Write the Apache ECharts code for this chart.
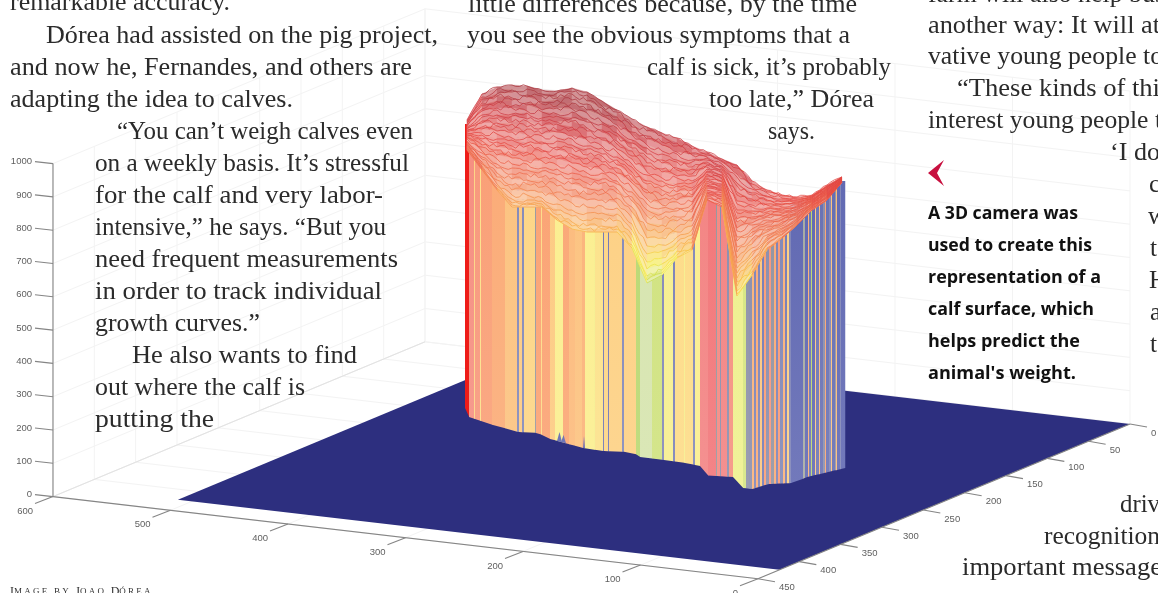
<!DOCTYPE html>
<html><head><meta charset="utf-8">
<style>html,body{margin:0;padding:0;background:#fff;overflow:hidden}#c{width:1158px;height:593px;filter:blur(0.35px)}</style>
<script src="https://cdn.jsdelivr.net/npm/echarts@6/dist/echarts.min.js"></script>
</head><body><div id="c"></div>
<script>
// ---- axis ticks
const xTicks=[0,100,200,300,400,500,600];
const yTicks=[0,50,100,150,200,250,300,350,400,450];
const zTicks=[0,100,200,300,400,500,600,700,800,900,1000];
const sensorX=512, sensorY=424;
// ---- surface columns and contour rows
const meshCols=[467,482,497,512,527,542,557,572,587,602,617,632,647,662,677,692,707,722,737,752,767,782,797,812,827,842];
const meshRows=[
[120,94,87,85,86,90,91,88,92,101,110,119,127,133,138,146,152,159,165,181,190,195,197,195,185,177],
[121,97,89,90,89,94,93,92,95,106,112,124,131,136,143,149,153,161,168,184,192,196,198,196,186,177],
[122,99,94,92,95,96,98,94,101,108,117,127,136,142,146,153,155,162,174,187,193,198,199,196,186,177],
[123,103,96,98,97,102,100,100,104,114,120,132,139,145,152,155,157,164,177,189,196,199,200,197,187,178],
[124,105,101,100,103,104,106,103,110,116,125,135,145,151,154,160,158,166,183,193,197,201,201,197,187,178],
[125,109,103,106,105,110,108,109,113,122,128,140,148,154,160,162,160,167,186,195,200,202,202,198,188,178],
[126,111,108,108,111,112,114,112,119,124,133,143,154,160,162,167,162,169,192,199,201,204,203,198,188,178],
[127,115,110,114,113,118,116,118,122,130,136,148,157,163,168,169,164,170,195,201,204,205,204,199,189,179],
[128,117,115,116,119,120,122,121,128,132,141,151,163,169,170,174,165,172,201,205,205,207,205,199,189,179],
[129,121,118,122,121,126,124,127,131,138,144,156,166,172,176,176,167,173,204,207,208,208,206,200,190,179],
[130,123,123,124,127,128,130,130,137,140,149,159,172,178,178,181,169,175,210,211,209,210,207,200,190,179],
[131,127,126,130,129,134,132,136,140,146,152,164,175,181,184,183,171,176,213,213,212,211,208,201,191,180],
[132,129,131,132,135,136,138,139,146,148,157,167,181,187,186,188,172,178,219,217,213,213,209,201,191,180],
[133,133,134,138,137,142,141,145,149,154,160,172,184,190,192,190,174,179,222,219,216,214,210,202,192,180],
[134,135,139,140,143,144,147,148,155,156,165,175,190,196,194,195,176,181,228,223,217,216,211,202,192,180],
[135,139,142,146,146,150,150,154,158,162,168,180,193,199,200,197,178,182,231,225,220,217,212,203,193,180],
[136,141,147,149,152,152,156,157,164,164,173,183,199,205,202,202,179,184,237,229,222,219,213,203,193,180],
[137,145,150,155,155,158,159,163,167,170,176,188,204,208,208,204,181,185,241,232,225,220,214,204,194,181],
[138,147,155,158,161,161,165,167,173,173,181,192,210,214,211,209,183,187,247,236,227,222,215,204,194,181],
[139,151,159,164,164,168,169,173,177,179,184,197,216,219,217,212,185,188,252,239,230,224,216,205,195,181],
[141,153,164,168,170,171,175,178,183,183,189,201,223,225,221,218,186,190,258,244,232,226,217,205,195,181],
[142,157,168,174,174,177,180,184,188,189,193,207,230,232,227,221,188,191,263,248,235,228,218,206,196,181],
[143,159,173,179,180,181,186,190,194,194,198,212,238,238,232,226,190,193,268,252,237,229,219,206,196,181],
[144,162,177,185,184,187,192,197,200,200,203,218,246,245,237,230,192,195,273,256,239,231,220,207,197,182],
[145,164,180,190,191,192,198,203,207,206,208,224,254,251,242,235,193,197,278,260,241,232,221,207,197,182],
[146,166,184,195,195,198,204,210,213,213,214,230,262,258,247,239,195,199,282,264,243,234,222,208,198,182],
[147,167,186,199,200,201,210,216,220,219,220,235,269,264,251,243,196,201,286,268,245,235,223,208,198,182],
[148,168,188,203,203,204,215,222,226,226,226,241,276,270,255,247,198,204,291,272,248,237,224,209,199,182],
[149,169,189,205,205,206,218,226,229,229,229,245,280,273,257,249,199,206,294,274,249,238,225,210,200,182],
[150,170,190,207,207,207,220,229,232,232,232,248,283,275,258,250,200,207,296,275,250,238,225,210,200,182]
];
const meshGrain=[1.6,-1.3,2.2,-0.6,-2,1.1,-1.5,2.4,0.4,-2.3,1.8,-0.9,2.6,-1.7,0.8,-2.5,1.4,-0.3,2,-1.9,0.6,2.3,-1.1,-2.2,1.2];
// ---- where the surface meets the floor
const footX=[465,469,493,518,538,550,583,603,633,640,680,700,701,733,735,752,768,793,807,845];
const footY=[408,417,425,432,433,439,448,451,452,457,462,466,475,477,487,489,484,483,477,468];
// ---- curtain strips: left edge and colour-scale value
const stripEdge=[
465,469,474,475,480,481,492,505,517,519,
522,524,535,536,541,542,550,555,563,569,
575,582,585,594,595,603,604,608,609,622,
624,636,640,652,662,664,673,675,684,685,
693,695,700,708,716,717,720,721,727,729,
733,743,746,749,752,754,756,758,760,762,
764,766,769,771,774,776,778,780,783,785,
787,789,791,803,805,808,809,811,812,815,
816,819,820,823,825,826,829,831,832,835,
836,837,840,841,845];
const stripValue=[
1,.76,.5,.72,.46,.68,.64,.58,.1,.55,
.1,.5,.15,.66,.48,.66,.55,.42,.65,.6,
.58,.62,.42,.4,.46,.05,.5,.05,.52,.1,
.52,.3,.27,.33,.1,.4,.08,.48,.4,.48,
.1,.42,.8,.84,.15,.78,.12,.8,.12,.75,
.37,.34,.13,.12,.62,.09,.64,.09,.56,.07,
.68,.12,.72,.14,.64,.09,.7,.1,.62,.07,
.52,.09,.02,.18,.02,.62,.05,.3,.02,.55,
.05,.6,.04,.12,.65,.04,.1,.58,.03,.15,
.6,.02,.1,.02];
// ---- small stray returns at the foot of the surface
const strayX0=[557,561,583], strayX1=[562,566,585], strayTop=[432,435,436];
// ---- page text: text, left edge, middle line, right edge
const bodyLines=[
 ["remarkable accuracy.",10,3,230],["Dórea had assisted on the pig project,",46,36,438],["and now he, Fernandes, and others are",10,68,412],
 ["adapting the idea to calves.",10,100,293],["“You can’t weigh calves even",117,132,413],["on a weekly basis. It’s stressful",95,164,409],
 ["for the calf and very labor-",95,196,383],["intensive,” he says. “But you",95,228,386],["need frequent measurements",95,260,398],
 ["in order to track individual",95,292,382],["growth curves.”",95,324,260],["He also wants to find",132,356,357],
 ["out where the calf is",95,388,305],["putting the",95,420,214],
 ["little differences because, by the time",468,5,857],["you see the obvious symptoms that a",467,36,850],
 ["calf is sick, it’s probably",647,68,891],["too late,” Dórea",709,100,874],["says.",768,132,815],
 ["farm will also help bus",928,-5,1165],["another way: It will at",928,26,1160],["vative young people to",928,57,1163],["“These kinds of thi",957,89,1160],
 ["interest young people t",928,121,1162],["‘I do",1110,153,1160],["c",1149,185,0],["w",1148,217,0],["t",1150,249,0],["H",1149,281,0],["a",1150,313,0],["t",1150,345,0],
 ["driv",1120,505,1160],["recognition",1044,537,1160],["important message",962,568,1162]
];
const captionLines=["A 3D camera was","used to create this","representation of a","calf surface, which","helps predict the","animal's weight."];
const captionRight=[1078,1092,1101,1094,1080,1076];
const captionY=[214,246,278,310,342,374];

// ---- projection of the plot box onto the page
const origin=[1130,424], perX=[-1.175,-0.137], perY=[-0.8267,0.344], perZ=-0.333;
const P=(x,y,z)=>[origin[0]+x*perX[0]+y*perY[0], origin[1]+x*perX[1]+y*perY[1]+z*perZ];
const lerp=(a,b,t)=>a+(b-a)*t;
function lookup(xs,ys,x){
  if(x<=xs[0])return ys[0];
  for(let i=1;i<xs.length;i++) if(x<=xs[i]) return lerp(ys[i-1],ys[i],(x-xs[i-1])/(xs[i]-xs[i-1]));
  return ys[ys.length-1];
}
const hex=h=>[1,3,5].map(i=>parseInt(h.substr(i,2),16));
function ramp(stops,v){
  if(v<=stops[0][0])return hex(stops[0][1]);
  for(let i=1;i<stops.length;i++) if(v<=stops[i][0]){
    const t=(v-stops[i-1][0])/(stops[i][0]-stops[i-1][0]),a=hex(stops[i-1][1]),b=hex(stops[i][1]);
    return a.map((c,k)=>lerp(c,b[k],t));
  }
  return hex(stops[stops.length-1][1]);
}
const rgb=(c,w=0)=>`rgb(${c.map(v=>Math.round(lerp(v,255,w))).join(',')})`;
const stripRamp=[[0,'#5a63b2'],[.1,'#8388b8'],[.15,'#96989f'],[.27,'#d6e4ae'],[.3,'#b9d872'],[.37,'#eef08e'],[.42,'#fbee8e'],[.5,'#fdd584'],[.58,'#fcc27e'],[.66,'#faa272'],[.75,'#f5917f'],[.82,'#f27f85'],[.95,'#f04a3a'],[1,'#ee1c18']];
const heightRamp=[[520,'#a8cf3f'],[590,'#f5e62e'],[660,'#f7a22f'],[740,'#ef6a35'],[850,'#e22f27'],[950,'#c8222a'],[1020,'#a01c25']];

// ---- frame segments
const frameSeg=[], ruleSeg=[], tickLabels=[];
zTicks.forEach(z=>{
  frameSeg.push([P(600,0,z),P(0,0,z)],[P(600,0,z),P(600,450,z)]);
  const p=P(600,450,z); ruleSeg.push([p,[p[0]-18,p[1]-2]]);
  tickLabels.push([String(z),p[0]-21,p[1]-2,'right']);
});
xTicks.forEach(x=>{
  frameSeg.push([P(x,0,0),P(x,450,0)],[P(x,0,0),P(x,0,1000)]);
  const p=P(x,450,0); ruleSeg.push([p,[p[0]-18,p[1]+7]]);
  tickLabels.push([String(x),p[0]-20,p[1]+14.5,'right']);
});
yTicks.forEach(y=>{
  frameSeg.push([P(0,y,0),P(600,y,0)],[P(600,y,0),P(600,y,1000)]);
  const p=P(0,y,0); ruleSeg.push([p,[p[0]+17,p[1]+3]]);
  tickLabels.push([String(y),p[0]+21,p[1]+9,'left']);
});
ruleSeg.push([P(600,450,0),P(600,450,1000)],[P(600,450,0),P(0,450,0)],[P(0,450,0),P(0,0,0)]);

function segSeries(list,stroke,width,z){
  return {type:'custom',coordinateSystem:'cartesian2d',silent:true,z,clip:false,data:list.map((_,i)=>[i]),
    renderItem:(ps,api)=>{const s=list[ps.dataIndex],a=api.coord(s[0]),b=api.coord(s[1]);
      return {type:'line',shape:{x1:a[0],y1:a[1],x2:b[0],y2:b[1]},style:{stroke,lineWidth:width}};}};
}
const cells=[];
for(let k=0;k<meshRows.length-1;k++)for(let j=0;j<meshCols.length-1;j++)cells.push([j,k]);
const rowsAll=[];
for(let k=0;k<meshRows.length;k++)for(let j=0;j<meshCols.length-1;j++)rowsAll.push([j,k]);
const heightAt=(x,y)=>(lookup(footX,footY,x)-y)/0.333;
const grain=(j,k,s)=>meshGrain[(j*7+k*3+s*11)%meshGrain.length];

const series=[
  segSeries(frameSeg,'#f3f3f3',1,1),
  segSeries([[P(600,0,0),P(600,450,0)]],'#e2e2e2',1,1),
  {type:'custom',coordinateSystem:'cartesian2d',silent:true,z:2,clip:false,data:[[0]],
   renderItem:(ps,api)=>({type:'polygon',shape:{points:[P(0,0,0),P(sensorX,0,0),P(sensorX,sensorY,0),P(0,sensorY,0)].map(p=>api.coord(p))},style:{fill:'#2d2f7f'}})},
  segSeries(ruleSeg,'#858585',1.1,3),
  {type:'custom',coordinateSystem:'cartesian2d',silent:true,z:4,clip:false,data:stripValue.map((v,i)=>[stripEdge[i],v]),
   renderItem:(ps,api)=>{const i=ps.dataIndex,x0=stripEdge[i],x1=stripEdge[i+1],v=stripValue[i];
     const top=lookup(meshCols,meshRows[0],(x0+x1)/2)+4;
     const a=api.coord([x0,top]),b=api.coord([x1+.25,top]),c=api.coord([x1+.25,lookup(footX,footY,x1)]),d=api.coord([x0,lookup(footX,footY,x0)]);
     const col=ramp(stripRamp,v);
     return {type:'polygon',shape:{points:[a,b,c,d]},style:{fill:{type:'linear',x:0,y:0,x2:0,y2:1,colorStops:[{offset:0,color:rgb(col,0)},{offset:1,color:rgb(col,v>.9?0:.1)}]}}};}},
  {type:'custom',coordinateSystem:'cartesian2d',silent:true,z:5,clip:false,data:strayX0.map((v,i)=>[v,strayTop[i]]),
   renderItem:(ps,api)=>{const i=ps.dataIndex,x0=strayX0[i],x1=strayX1[i];
     const pts=[[(x0+x1)/2,strayTop[i]],[x1,lookup(footX,footY,x1)],[x0,lookup(footX,footY,x0)]].map(p=>api.coord(p));
     return {type:'polygon',shape:{points:pts},style:{fill:'#6f75b8'}};}},
  {type:'custom',coordinateSystem:'cartesian2d',silent:true,z:6,clip:false,data:cells,
   renderItem:(ps,api)=>{const [j,k]=cells[ps.dataIndex];
     const x0=meshCols[j],x1=meshCols[j+1],r0=meshRows[k],r1=meshRows[k+1];
     const h=heightAt((x0+x1)/2,(r0[j]+r0[j+1]+r1[j]+r1[j+1])/4);
     const g=grain(j,k,0);
     const mix=h>930?(g>0?.52:.36):.52+g*.03;
     const f=rgb(ramp(heightRamp,h),mix);
     return {type:'polygon',shape:{points:[[x0,r0[j]],[x1,r0[j+1]],[x1,r1[j+1]],[x0,r1[j]]].map(p=>api.coord(p))},style:{fill:f,stroke:f,lineWidth:.4}};}},
  {type:'custom',coordinateSystem:'cartesian2d',silent:true,z:7,clip:false,data:rowsAll,
   renderItem:(ps,api)=>{const [j,k]=rowsAll[ps.dataIndex];
     const x0=meshCols[j],x1=meshCols[j+1],r=meshRows[k];
     const ym=(r[j]+r[j+1])/2, h=heightAt((x0+x1)/2,ym);
     const next=meshRows[Math.min(k+1,meshRows.length-1)], gap=Math.max(0,Math.min(1,((next[j]+next[j+1])/2-ym)/3.5));
     const pts=[[x0,r[j]]];
     [1,2,3].forEach(s=>pts.push([lerp(x0,x1,s/4),lerp(r[j],r[j+1],s/4)+grain(j,k,s)*(k?gap:0.5)]));
     pts.push([x1,r[j+1]]);
     return {type:'polyline',shape:{points:pts.map(p=>api.coord(p))},style:{stroke:rgb(ramp(heightRamp,h),.12),lineWidth:.75,fill:null}};}},
  {type:'custom',coordinateSystem:'cartesian2d',silent:true,z:8,clip:false,data:tickLabels.map((_,i)=>[i]),
   renderItem:(ps,api)=>{const t=tickLabels[ps.dataIndex],p=api.coord([t[1],t[2]]);
     return {type:'text',x:p[0],y:p[1],style:{text:t[0],fill:'#5f5f5f',font:'9.5px "Liberation Sans"',align:t[3],verticalAlign:'middle'}};}}
];

const serif='"Liberation Serif"';
const bodyFont=`25.4px ${serif}`, capFont='bold 17.6px "Open Sans"';
const meas=document.createElement('canvas').getContext('2d');
const fit=(t,font,x,right)=>{ if(!right)return 1; meas.font=font; return (right-x)/meas.measureText(t).width; };
const graphics=[];
bodyLines.forEach(l=>graphics.push({type:'text',z:20,x:l[1],y:l[2],scaleX:fit(l[0],bodyFont,l[1],l[3]),silent:true,style:{text:l[0],fill:'#2b2b2b',font:bodyFont,align:'left',verticalAlign:'middle'}}));
captionLines.forEach((t,i)=>graphics.push({type:'text',z:20,x:928,y:captionY[i],scaleX:fit(t,capFont,928,captionRight[i]),silent:true,style:{text:t,fill:'#111',font:capFont,align:'left',verticalAlign:'middle'}}));
graphics.push({type:'polygon',z:20,silent:true,shape:{points:[[928,173],[944,160],[937,173],[944,186]]},style:{fill:'#c8103f'}});
graphics.push({type:'text',z:20,x:10,y:592,silent:true,style:{text:'{a|I}{b|M A G E}  {b|B Y}  {a|J}{b|O A O}  {a|D}{b|Ó R E A}',verticalAlign:'middle',align:'left',
  rich:{a:{font:`12px ${serif}`,fill:'#333'},b:{font:`9px ${serif}`,fill:'#333'}}}});

const chart=echarts.init(document.getElementById('c'),null,{renderer:'canvas',width:1158,height:593});
chart.setOption({
  animation:false,backgroundColor:'#fff',
  grid:{left:0,right:0,top:0,bottom:0,containLabel:false},
  xAxis:{type:'value',min:0,max:1158,show:false},
  yAxis:{type:'value',min:0,max:593,inverse:true,show:false},
  series,graphic:graphics
});
</script></body></html>
